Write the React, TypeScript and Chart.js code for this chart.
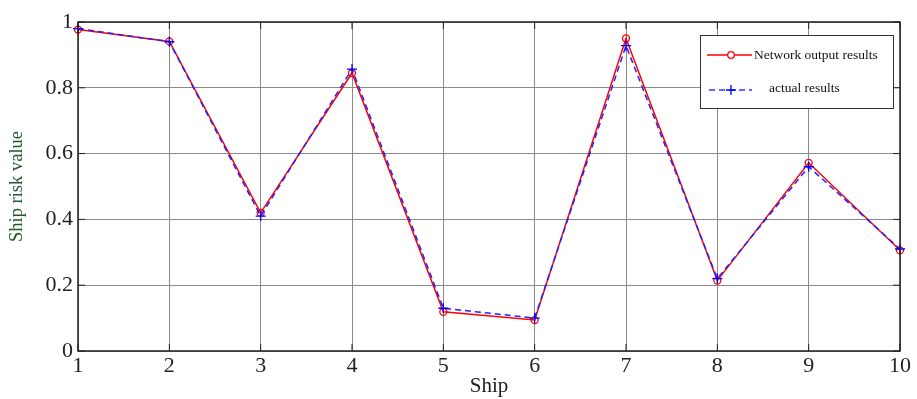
import React, { useEffect, useRef } from "react";
import { Chart, registerables } from "chart.js";
Chart.register(...registerables);

const ships = ["1", "2", "3", "4", "5", "6", "7", "8", "9", "10"];
const networkOutput = [0.977, 0.941, 0.42, 0.845, 0.119, 0.094, 0.95, 0.214, 0.572, 0.306];
const actualResults = [0.98, 0.94, 0.41, 0.857, 0.13, 0.1, 0.928, 0.22, 0.56, 0.31];
const yTicks = [0, 0.2, 0.4, 0.6, 0.8, 1];
const legendLabels = ["Network output results", "actual results"];

const FONT = "'Liberation Serif', 'Times New Roman', serif";

const framePlugin = {
  id: "frame",
  afterDraw(chart: any) {
    const { ctx, chartArea: a, scales } = chart;
    ctx.save();
    // inner tick marks
    ctx.strokeStyle = "#222";
    ctx.lineWidth = 1;
    ctx.beginPath();
    ships.forEach((_, i) => {
      const x = scales.x.getPixelForValue(i);
      ctx.moveTo(x, a.bottom); ctx.lineTo(x, a.bottom - 7);
      ctx.moveTo(x, a.top); ctx.lineTo(x, a.top + 7);
    });
    yTicks.forEach((v) => {
      const y = scales.y.getPixelForValue(v);
      ctx.moveTo(a.left, y); ctx.lineTo(a.left + 7, y);
      ctx.moveTo(a.right, y); ctx.lineTo(a.right - 7, y);
    });
    ctx.stroke();
    // frame
    ctx.strokeStyle = "#222";
    ctx.lineWidth = 1.5;
    ctx.strokeRect(a.left, a.top, a.right - a.left, a.bottom - a.top);
    // legend
    const lx = 700, ly = 35, lw = 193, lh = 73;
    ctx.fillStyle = "#fff";
    ctx.fillRect(lx, ly, lw, lh);
    ctx.strokeStyle = "#333";
    ctx.lineWidth = 1;
    ctx.strokeRect(lx + 0.5, ly + 0.5, lw, lh);
    // red sample
    const y1 = 55, y2 = 90;
    ctx.strokeStyle = "#ff0000";
    ctx.lineWidth = 1.3;
    ctx.beginPath(); ctx.moveTo(707, y1); ctx.lineTo(752, y1); ctx.stroke();
    ctx.fillStyle = "#fff";
    ctx.beginPath(); ctx.arc(731, y1, 3.3, 0, Math.PI * 2); ctx.fill(); ctx.stroke();
    // blue sample
    ctx.strokeStyle = "#3333ff";
    ctx.setLineDash([6, 4]);
    ctx.beginPath(); ctx.moveTo(709, y2); ctx.lineTo(752, y2); ctx.stroke();
    ctx.setLineDash([]);
    ctx.strokeStyle = "#0000ff";
    ctx.beginPath(); ctx.moveTo(726, y2); ctx.lineTo(736, y2); ctx.moveTo(731, y2 - 5); ctx.lineTo(731, y2 + 5); ctx.stroke();
    ctx.fillStyle = "#111";
    ctx.font = `13.5px ${FONT}`;
    ctx.textBaseline = "middle";
    ctx.textAlign = "left";
    ctx.fillText(legendLabels[0], 754, y1);
    ctx.fillText(legendLabels[1], 769, y2 - 2);
    ctx.restore();
  },
};

export default function App() {
  const ref = useRef<HTMLCanvasElement>(null);
  useEffect(() => {
    const chart = new Chart(ref.current!, {
      type: "line",
      data: {
        labels: ships,
        datasets: [
          {
            label: legendLabels[0],
            data: networkOutput,
            borderColor: "#ff0000",
            backgroundColor: "rgba(0,0,0,0)",
            borderWidth: 1.5,
            pointStyle: "circle",
            pointRadius: 3.5,
            pointBorderColor: "#ff0000",
            pointBackgroundColor: "rgba(0,0,0,0)",
            pointBorderWidth: 1.3,
            tension: 0,
            order: 1,
          },
          {
            label: legendLabels[1],
            data: actualResults,
            borderColor: "#2222ff",
            backgroundColor: "rgba(0,0,0,0)",
            borderWidth: 1.5,
            borderDash: [6, 4],
            pointStyle: "cross",
            pointRadius: 5,
            pointBorderColor: "#0000ff",
            pointBorderWidth: 1.3,
            tension: 0,
            order: 0,
          },
        ],
      },
      options: {
        animation: false,
        responsive: false,
        layout: { padding: { top: 22, right: 17, left: 0, bottom: 0 } },
        plugins: { legend: { display: false }, tooltip: { enabled: false } },
        scales: {
          x: {
            offset: false,
            grid: { color: "#8a8a8a", lineWidth: 1, drawTicks: false },
            border: { display: false },
            ticks: { color: "#222", font: { family: FONT, size: 22 }, padding: 2, maxRotation: 0 },
            title: { display: true, text: "Ship", color: "#222", font: { family: FONT, size: 21 }, padding: { top: -6, bottom: 0 } },
            afterFit: (s: any) => { s.height = 48; },
          },
          y: {
            min: 0,
            max: 1,
            afterBuildTicks: (s: any) => { s.ticks = yTicks.map((v) => ({ value: v })); },
            grid: { color: "#8a8a8a", lineWidth: 1, drawTicks: false },
            border: { display: false },
            ticks: {
              color: "#222",
              font: { family: FONT, size: 22 },
              padding: 5,
              callback: (v: any) => String(+(+v).toFixed(1)),
            },
            title: { display: true, text: "Ship risk value", color: "#1e5a2e", font: { family: FONT, size: 18.5 }, padding: { top: 6, bottom: 0 } },
            afterFit: (s: any) => { s.width = 78; },
          },
        },
      },
      plugins: [framePlugin],
    });
    return () => chart.destroy();
  }, []);
  return (
    <div style={{ position: "fixed", left: 0, top: 0, width: 917, height: 399, background: "#fff" }}>
      <canvas ref={ref} width={917} height={399} style={{ display: "block" }} />
    </div>
  );
}
